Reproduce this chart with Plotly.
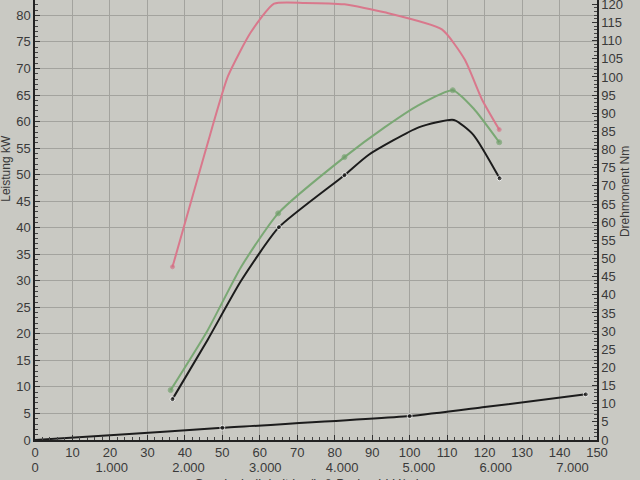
import plotly.graph_objects as go

red_kmh = [36.7, 45.6, 51.5, 57.6, 63.8, 72.0, 82.6, 93.3, 108.6, 114.7, 119.3, 123.9]
red_nm = [47.7, 80.0, 100.2, 112.3, 120.2, 120.4, 120.0, 117.8, 113.1, 104.8, 93.8, 85.5]
red_marks = [1, 0, 0, 0, 0, 0, 0, 0, 0, 0, 0, 1]

green_kmh = [36.2, 46.1, 55.0, 64.9, 82.6, 93.3, 102.4, 111.5, 117.0, 123.9]
green_kw = [9.4, 20.7, 32.6, 42.7, 53.3, 58.9, 63.1, 65.9, 62.5, 56.1]
green_marks = [1, 0, 0, 1, 1, 0, 0, 1, 0, 1]

black_kmh = [36.7, 46.1, 55.0, 65.1, 82.6, 89.0, 102.4, 111.8, 117.0, 124.0]
black_kw = [7.7, 18.9, 30.0, 40.1, 49.9, 53.7, 58.9, 60.3, 57.5, 49.3]
black_marks = [1, 0, 0, 1, 1, 0, 0, 0, 0, 1]

loss_kmh = [0, 20, 50, 100, 120, 147]
loss_kw = [0, 0.9, 2.3, 4.5, 6.2, 8.6]
loss_marks = [0, 0, 1, 1, 0, 1]

kmh_ticks = list(range(0, 151, 10))
rpm_ticks = [0, 1000, 2000, 3000, 4000, 5000, 6000, 7000]
rpm_labels = [f"{v:,}".replace(",", ".") for v in rpm_ticks]

BG = "#c9c9c3"
TXT = "#3a3a3a"
FONT = "Liberation Sans"
SMOOTH = 0.55


def sizes(flags, s=5):
    return [s if f else 0 for f in flags]


fig = go.Figure()

fig.add_trace(go.Scatter(
    x=loss_kmh, y=loss_kw, mode="lines+markers",
    line=dict(color="#1c1c1c", width=2, shape="spline", smoothing=SMOOTH),
    marker=dict(size=sizes(loss_marks), color="#1c1c1c"),
))
fig.add_trace(go.Scatter(
    x=green_kmh, y=green_kw, mode="lines+markers",
    line=dict(color="#7aa874", width=2, shape="spline", smoothing=SMOOTH),
    marker=dict(size=sizes(green_marks), color="#6f9c69"),
))
fig.add_trace(go.Scatter(
    x=black_kmh, y=black_kw, mode="lines+markers",
    line=dict(color="#1c1c1c", width=2, shape="spline", smoothing=SMOOTH),
    marker=dict(size=sizes(black_marks), color="#1c1c1c"),
))
fig.add_trace(go.Scatter(
    x=red_kmh, y=red_nm, mode="lines+markers", yaxis="y2",
    line=dict(color="#d9788c", width=2, shape="spline", smoothing=SMOOTH),
    marker=dict(size=sizes(red_marks, 4), color="#d06a80"),
))
# unsichtbare Spur fuer die Drehzahl-Achse
fig.add_trace(go.Scatter(
    x=rpm_ticks, y=[0] * len(rpm_ticks), xaxis="x2", mode="markers",
    marker=dict(size=0, opacity=0), hoverinfo="skip",
))

axis_common = dict(
    showline=True, linecolor="#222222", linewidth=1.5,
    ticks="inside", ticklen=5, tickcolor="#333333",
    tickfont=dict(family=FONT, size=13, color=TXT),
    zeroline=False, ticklabeloverflow="allow", automargin=False,
)

fig.update_layout(
    width=640, height=480,
    margin=dict(l=35, r=43, t=0, b=0),
    paper_bgcolor=BG, plot_bgcolor=BG,
    showlegend=False,
    xaxis=dict(
        range=[0, 150], tickvals=kmh_ticks,
        showgrid=True, gridcolor="#a3a39e", gridwidth=1,
        minor=dict(ticks="inside", ticklen=3, dtick=2, tickcolor="#444444"),
        anchor="y", **axis_common,
    ),
    xaxis2=dict(
        range=[0, 7320], tickvals=rpm_ticks, ticktext=rpm_labels,
        overlaying="x", anchor="free", position=0.045,
        showline=False, showgrid=False, zeroline=False, ticks="",
        tickfont=dict(family=FONT, size=13, color=TXT),
        ticklabeloverflow="allow", automargin=False,
    ),
    yaxis=dict(
        range=[0, 82.9], dtick=5, domain=[40 / 480, 1],
        showgrid=True, gridcolor="#a3a39e", gridwidth=1,
        minor=dict(ticks="inside", ticklen=3, dtick=1, tickcolor="#444444"),
        **axis_common,
    ),
    yaxis2=dict(
        range=[0, 121.2], dtick=5, overlaying="y", side="right",
        showgrid=False,
        minor=dict(ticks="inside", ticklen=3, dtick=1, tickcolor="#444444"),
        **axis_common,
    ),
    annotations=[
        dict(text="Leistung kW", xref="paper", yref="paper", x=-0.052, y=0.65,
             xanchor="center", yanchor="middle",
             textangle=-90, showarrow=False,
             font=dict(family=FONT, size=12, color=TXT)),
        dict(text="Drehmoment Nm", xref="paper", yref="paper", x=1.05, y=0.6,
             xanchor="center", yanchor="middle",
             textangle=-90, showarrow=False,
             font=dict(family=FONT, size=12, color=TXT)),
        dict(text="Geschwindigkeit km/h & Drehzahl U/min", xref="paper", yref="paper",
             x=0.49, y=0, yanchor="middle", yshift=-3, showarrow=False,
             font=dict(family=FONT, size=13, color=TXT)),
    ],
)

fig.write_html("out.html", config={"displayModeBar": False},
               post_script="document.body.style.margin='0';")
